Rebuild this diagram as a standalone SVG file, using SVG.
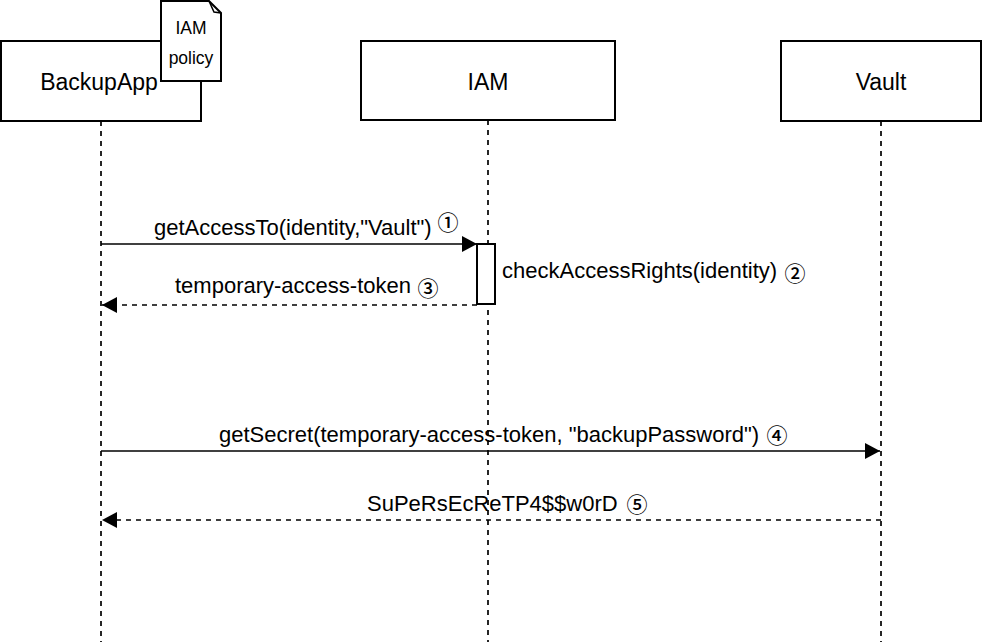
<svg xmlns="http://www.w3.org/2000/svg" width="982" height="642" viewBox="0 0 982 642">
<style>
.box{fill:#fff;stroke:#000;stroke-width:2}
.life{stroke:#000;stroke-width:1.7;stroke-dasharray:5 5;fill:none}
.msg{stroke:#000;stroke-width:1.7;fill:none}
.ret{stroke:#000;stroke-width:1.7;fill:none;stroke-dasharray:5 5}
.node{font-family:"Liberation Sans",Arial,sans-serif;font-size:23px;fill:#000;text-anchor:middle}
.lbl{font-family:"Liberation Sans",Arial,sans-serif;font-size:22px;fill:#000}
.num{font-family:"Noto Sans CJK JP","DejaVu Sans",sans-serif;font-size:21px;font-weight:500;fill:#000;text-anchor:middle;dominant-baseline:central}
.note{font-family:"Liberation Sans",Arial,sans-serif;font-size:17.5px;fill:#000;text-anchor:middle}
</style>
<defs>
<marker id="ah" markerUnits="userSpaceOnUse" markerWidth="16" markerHeight="16" viewBox="0 0 16 16" refX="15" refY="8" orient="auto">
<path d="M0,0 L15,8 L0,16 Z" fill="#000"/>
</marker>
</defs>
<g id="lifelines">
<line class="life" x1="101" y1="121" x2="101" y2="642"/>
<line class="life" x1="488" y1="120" x2="488" y2="642"/>
<line class="life" x1="881" y1="121" x2="881" y2="642"/>
</g>
<g id="node-backupapp">
<rect class="box" x="1" y="41" width="200" height="80"/>
<text class="node" x="99" y="89.5">BackupApp</text>
</g>
<g id="node-iam">
<rect class="box" x="361" y="41" width="254" height="79"/>
<text class="node" x="488" y="90">IAM</text>
</g>
<g id="node-vault">
<rect class="box" x="781" y="41" width="200" height="80"/>
<text class="node" x="881" y="90">Vault</text>
</g>
<g id="activation-iam">
<rect class="box" x="477" y="244" width="18" height="60"/>
</g>
<g id="note-iam-policy">
<path class="box" d="M161,1 H209 L221,13 V81 H161 Z"/>
<path d="M209,1 L214,12 L221,13" fill="none" stroke="#000" stroke-width="1.5"/>
<text class="note" x="191" y="34">IAM</text>
<text class="note" x="191" y="64">policy</text>
</g>
<g id="connectors">
<line class="msg" x1="101" y1="244" x2="477" y2="244" marker-end="url(#ah)"/>
<line class="ret" x1="477" y1="305" x2="102" y2="305" marker-end="url(#ah)"/>
<line class="msg" x1="101" y1="451" x2="880" y2="451" marker-end="url(#ah)"/>
<line class="ret" x1="881" y1="520" x2="102" y2="520" marker-end="url(#ah)"/>
</g>
<g id="labels">
<text class="lbl" x="154" y="235">getAccessTo(identity,"Vault")</text>
<text class="num" x="448" y="221">①</text>
<text class="lbl" x="502" y="278">checkAccessRights(identity)</text>
<text class="num" x="795" y="272">②</text>
<text class="lbl" x="175" y="293">temporary-access-token</text>
<text class="num" x="428" y="287">③</text>
<text class="lbl" x="219" y="442">getSecret(temporary-access-token, "backupPassword")</text>
<text class="num" x="777" y="434">④</text>
<text class="lbl" x="367" y="511">SuPeRsEcReTP4$$w0rD</text>
<text class="num" x="637" y="503">⑤</text>
</g>
</svg>
